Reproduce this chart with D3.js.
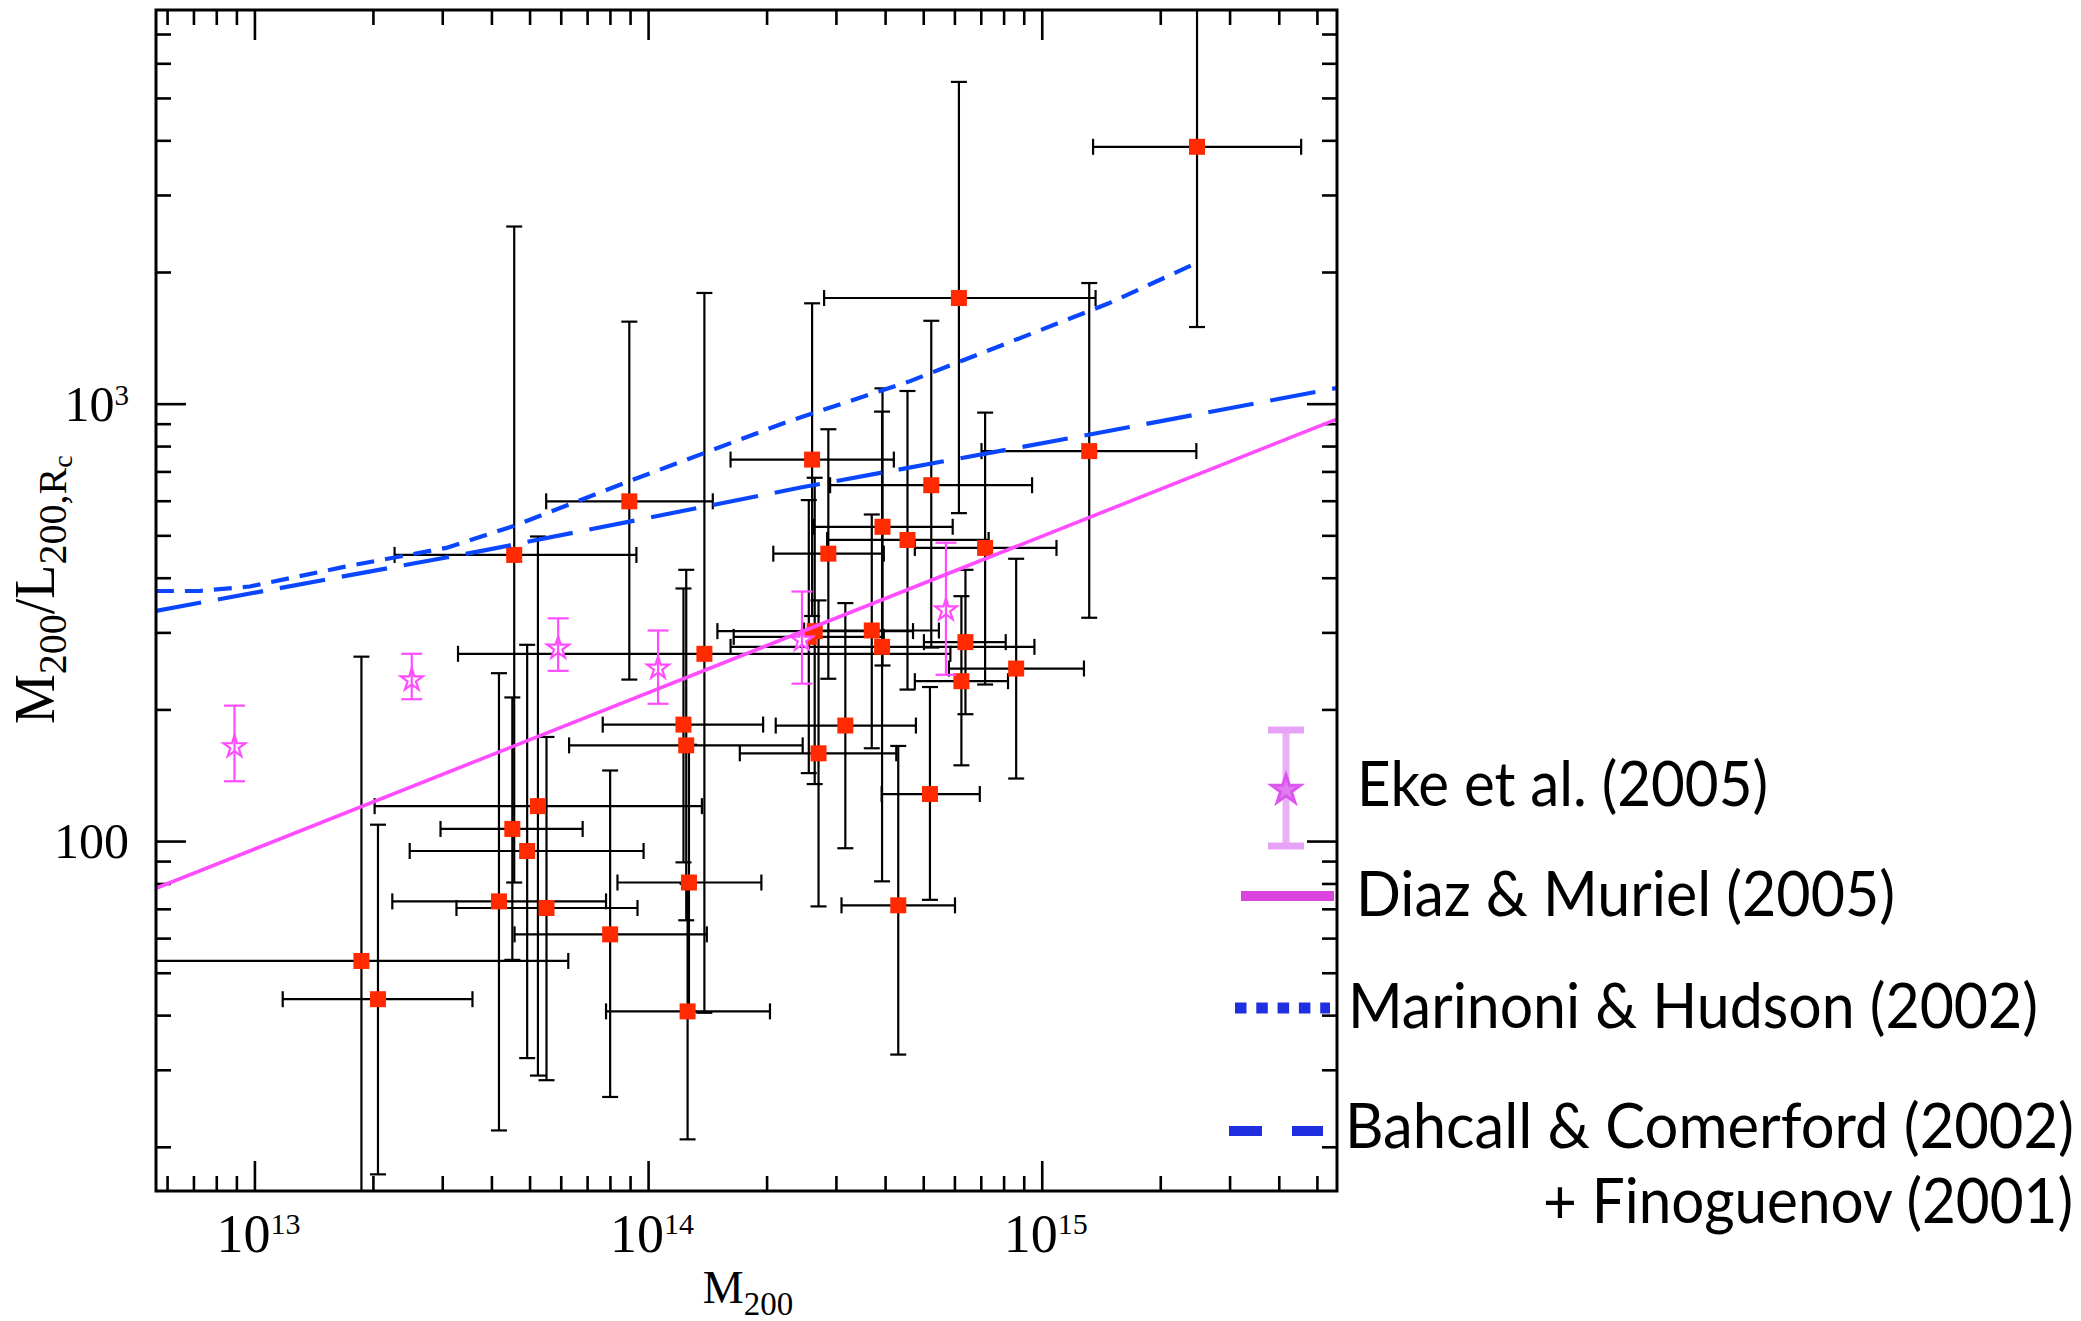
<!DOCTYPE html>
<meta charset="utf-8">

<!-- Load d3.js -->
<script src="https://d3js.org/d3.v7.min.js"></script>

<style>
  body { margin: 0; background: #fff; }
  svg { display: block; }
</style>

<svg id="chart" width="2081" height="1321"></svg>

<script>

// ---- data ---------------------------------------------------------------

// clusters (red squares) : M200, M200/L200 and the error bar ends
var clusterMass    = [2.48e15, 6.16e14, 1.32e15, 2.61e14, 5.24e14, 8.96e13, 4.57e13, 3.94e14, 4.56e14, 7.18e14, 2.87e14, 3.70e14, 2.65e14, 2.56e14, 3.93e14, 6.40e14, 1.39e14, 8.61e14, 6.25e14, 1.23e14, 3.17e14, 1.25e14, 2.71e14, 5.20e14, 5.25e13, 4.52e13, 4.93e13, 1.27e14, 4.18e13, 4.32e14, 5.52e13, 8.01e13, 1.87e13, 2.06e13, 1.26e14];
var clusterRatio   = [3866, 1744, 779, 745, 651, 598, 451, 523, 488, 468, 454, 303, 302, 293, 278, 285, 268, 248, 232, 184.6, 183.7, 165.5, 158.7, 128.1, 120.2, 106.6, 94.9, 80.4, 72.8, 71.3, 70.3, 61.2, 53.2, 43.5, 40.8];
var clusterMassLo  = [1.35e15, 2.80e14, 7.03e14, 1.62e14, 2.90e14, 5.51e13, 2.27e13, 2.64e14, 2.85e14, 4.76e14, 2.08e14, 2.49e14, 1.50e14, 1.65e14, 1.62e14, 5.02e14, 3.29e13, 5.81e14, 4.76e14, 7.67e13, 2.11e14, 6.30e13, 1.71e14, 3.92e14, 2.02e13, 2.97e13, 2.48e13, 8.36e13, 2.24e13, 3.10e14, 3.26e13, 4.58e13, 5.6e12, 1.18e13, 7.82e13];
var clusterMassHi  = [4.56e15, 1.37e15, 2.47e15, 4.21e14, 9.45e14, 1.46e14, 9.34e13, 5.94e14, 7.33e14, 1.09e15, 3.97e14, 5.48e14, 4.71e14, 3.97e14, 9.58e14, 8.10e14, 5.86e14, 1.28e15, 8.21e14, 1.96e14, 4.79e14, 2.47e14, 4.27e14, 6.96e14, 1.37e14, 6.82e13, 9.74e13, 1.94e14, 7.82e13, 6.02e14, 9.40e13, 1.41e14, 6.27e13, 3.58e13, 2.04e14];
var clusterRatioLo = [1497, 562, 324, 327, 277, 234, 80.4, 252, 222, 228, 235, 163, 135, 143, 80.9, 195, 40.5, 139, 149, 89.4, 96.3, 65.9, 70.9, 73.4, 29.1, 53.5, 31.9, 40.8, 21.8, 32.5, 28.4, 26.0, 10.7, 17.3, 20.8];
var clusterRatioHi = [9980, 5440, 1887, 1696, 1547, 1540, 2541, 1084, 1069, 954, 874, 558, 677, 602, 959, 417, 1791, 442, 363, 378, 350, 417, 355, 225, 497, 213, 281, 166, 242, 165, 173, 145, 264, 109, 79.8];

// Eke et al. (2005) groups (open stars)
var ekeMass    = [8.90e12, 2.51e13, 5.91e13, 1.06e14, 2.46e14, 5.71e14];
var ekeRatio   = [166, 236, 279, 251, 291, 341];
var ekeRatioLo = [137, 211, 245, 206, 229, 240];
var ekeRatioHi = [204, 268, 323, 303, 372, 481];

// Diaz & Muriel (2005) power law
var diazMass  = [5.62e12, 5.62e15];
var diazRatio = [78, 922];

// Marinoni & Hudson (2002)
var marinoniMass  = [5.62e12, 7.24e12, 9.73e12, 1.70e13, 3.07e13, 4.55e13, 8.96e13, 2.28e14, 4.63e14, 1.48e15, 2.41e15];
var marinoniRatio = [373, 373, 382, 424, 468, 525, 665, 912, 1126, 1696, 2075];

// Bahcall & Comerford (2002) + Finoguenov (2001)
var bahcallMass  = [5.62e12, 3.75e13, 2.44e14, 1.41e15, 5.62e15];
var bahcallRatio = [336, 460, 643, 859, 1086];

// tick labels
var xTickLabels = [{v: 1e13, base: "10", exp: "13"}, {v: 1e14, base: "10", exp: "14"}, {v: 1e15, base: "10", exp: "15"}];
var yTickLabels = [{v: 100, base: "100", exp: ""}, {v: 1000, base: "10", exp: "3"}];

var legendLabels = ["Eke et al. (2005)", "Diaz & Muriel (2005)", "Marinoni & Hudson (2002)", "Bahcall & Comerford (2002)", "+ Finoguenov (2001)"];

// ---- layout -------------------------------------------------------------

var svg = d3.select("#chart");
var pLeft = 156, pRight = 1337, pTop = 10, pBottom = 1191;

var x = d3.scaleLog().domain([Math.pow(10, 12.75), Math.pow(10, 15.75)]).range([pLeft, pRight]);
var y = d3.scaleLog().domain([Math.pow(10, 1.2), Math.pow(10, 3.9)]).range([pBottom, pTop]);

var serif = "'Liberation Serif', 'DejaVu Serif', serif";
var sans = "Lato, 'Open Sans', sans-serif";

function isDecade(v) {
  var l = Math.log10(v);
  return Math.abs(l - Math.round(l)) < 1e-9;
}

var xMajor = x.ticks().filter(isDecade),
    xMinor = x.ticks().filter(function (v) { return !isDecade(v); }),
    yMajor = y.ticks().filter(isDecade),
    yMinor = y.ticks().filter(function (v) { return !isDecade(v); });

// clip region for the data
svg.append("defs").append("clipPath").attr("id", "plotclip")
  .append("rect")
    .attr("x", pLeft).attr("y", pTop)
    .attr("width", pRight - pLeft).attr("height", pBottom - pTop);

// ---- ticks (inward on all four sides) ------------------------------------

function tickAxis(axis, vals, size, tr) {
  var g = svg.append("g")
    .attr("transform", tr)
    .call(axis.tickValues(vals).tickSize(-size).tickFormat(""));
  g.select(".domain").remove();
  g.selectAll("line").attr("stroke", "#000").attr("stroke-width", 2.6);
}

tickAxis(d3.axisBottom(x), xMajor, 30, "translate(0," + pBottom + ")");
tickAxis(d3.axisBottom(x), xMinor, 15, "translate(0," + pBottom + ")");
tickAxis(d3.axisTop(x), xMajor, 30, "translate(0," + pTop + ")");
tickAxis(d3.axisTop(x), xMinor, 15, "translate(0," + pTop + ")");
tickAxis(d3.axisLeft(y), yMajor, 30, "translate(" + pLeft + ",0)");
tickAxis(d3.axisLeft(y), yMinor, 15, "translate(" + pLeft + ",0)");
tickAxis(d3.axisRight(y), yMajor, 30, "translate(" + pRight + ",0)");
tickAxis(d3.axisRight(y), yMinor, 15, "translate(" + pRight + ",0)");

// ---- data layer ----------------------------------------------------------

var plot = svg.append("g").attr("clip-path", "url(#plotclip)");

var clusters = clusterMass.map(function (m, i) {
  return {m: m, r: clusterRatio[i], mLo: clusterMassLo[i], mHi: clusterMassHi[i],
          rLo: clusterRatioLo[i], rHi: clusterRatioHi[i]};
});

var cap = 8;
var bars = plot.append("g")
  .attr("stroke", "#000")
  .attr("stroke-width", 2.2)
  .attr("fill", "none");

clusters.forEach(function (d) {
  var cx = x(d.m), cy = y(d.r);
  var x0 = x(d.mLo), x1 = x(d.mHi), y0 = y(d.rLo), y1 = y(d.rHi);
  // horizontal
  bars.append("line").attr("x1", x0).attr("x2", x1).attr("y1", cy).attr("y2", cy);
  bars.append("line").attr("x1", x0).attr("x2", x0).attr("y1", cy - cap).attr("y2", cy + cap);
  bars.append("line").attr("x1", x1).attr("x2", x1).attr("y1", cy - cap).attr("y2", cy + cap);
  // vertical
  bars.append("line").attr("x1", cx).attr("x2", cx).attr("y1", y0).attr("y2", y1);
  bars.append("line").attr("x1", cx - cap).attr("x2", cx + cap).attr("y1", y0).attr("y2", y0);
  bars.append("line").attr("x1", cx - cap).attr("x2", cx + cap).attr("y1", y1).attr("y2", y1);
});

plot.append("g")
  .selectAll("rect")
  .data(clusters)
  .enter()
  .append("rect")
    .attr("x", function (d) { return x(d.m) - 8; })
    .attr("y", function (d) { return y(d.r) - 8; })
    .attr("width", 16)
    .attr("height", 16)
    .attr("fill", "#ff2a00");

// model lines
var line = d3.line()
  .x(function (d) { return x(d[0]); })
  .y(function (d) { return y(d[1]); });

plot.append("path")
  .datum(d3.zip(bahcallMass, bahcallRatio))
  .attr("d", line)
  .attr("fill", "none")
  .attr("stroke", "#0a46ff")
  .attr("stroke-width", 4.2)
  .attr("stroke-dasharray", "46,17");

plot.append("path")
  .datum(d3.zip(marinoniMass, marinoniRatio))
  .attr("d", line)
  .attr("fill", "none")
  .attr("stroke", "#0a46ff")
  .attr("stroke-width", 4.2)
  .attr("stroke-dasharray", "18,11");

plot.append("path")
  .datum(d3.zip(diazMass, diazRatio))
  .attr("d", line)
  .attr("fill", "none")
  .attr("stroke", "#ff4cff")
  .attr("stroke-width", 3.6);

// Eke et al. stars with error bars
var eke = plot.append("g")
  .attr("stroke", "#ff4cff")
  .attr("stroke-width", 2.2)
  .attr("fill", "none");

var star = d3.symbol().type(d3.symbolStar).size(150);

ekeMass.forEach(function (m, i) {
  var cx = x(m), y0 = y(ekeRatioLo[i]), y1 = y(ekeRatioHi[i]);
  eke.append("line").attr("x1", cx).attr("x2", cx).attr("y1", y0).attr("y2", y1);
  eke.append("line").attr("x1", cx - 10.5).attr("x2", cx + 10.5).attr("y1", y0).attr("y2", y0);
  eke.append("line").attr("x1", cx - 10.5).attr("x2", cx + 10.5).attr("y1", y1).attr("y2", y1);
  eke.append("path")
    .attr("d", star())
    .attr("fill", "#fff")
    .attr("transform", "translate(" + cx + "," + (y(ekeRatio[i]) + 2) + ")");
  eke.append("line").attr("x1", cx).attr("x2", cx).attr("y1", y(ekeRatio[i]) - 6).attr("y2", y(ekeRatio[i]) + 6);
});

// frame
svg.append("rect")
  .attr("x", pLeft).attr("y", pTop)
  .attr("width", pRight - pLeft).attr("height", pBottom - pTop)
  .attr("fill", "none")
  .attr("stroke", "#000")
  .attr("stroke-width", 3);

// ---- tick labels and axis titles ------------------------------------------

xTickLabels.forEach(function (t) {
  var txt = svg.append("text")
    .attr("x", x(t.v) + 4)
    .attr("y", 1252)
    .attr("text-anchor", "middle")
    .style("font-family", serif)
    .style("font-size", "54px");
  txt.append("tspan").text(t.base);
  txt.append("tspan").attr("dy", -18).style("font-size", "30px").text(t.exp);
});

yTickLabels.forEach(function (t) {
  var txt = svg.append("text")
    .attr("x", 129)
    .attr("y", y(t.v) + 17)
    .attr("text-anchor", "end")
    .style("font-family", serif)
    .style("font-size", "50px");
  txt.append("tspan").text(t.base);
  if (t.exp) txt.append("tspan").attr("dy", -16).style("font-size", "29px").text(t.exp);
});

// x title: M200
var xt = svg.append("text")
  .attr("x", 748).attr("y", 1303)
  .attr("text-anchor", "middle")
  .style("font-family", serif)
  .style("font-size", "46px");
xt.append("tspan").text("M");
xt.append("tspan").attr("dy", 12).style("font-size", "33px").text("200");

// y title: M200 / L200,Rc  (reads upward from the bottom)
var yt = svg.append("text")
  .attr("transform", "translate(54,724) rotate(-90)")
  .attr("text-anchor", "start")
  .style("font-family", serif)
  .style("font-size", "56px");
yt.append("tspan").text("M");
yt.append("tspan").attr("dy", 12).style("font-size", "40px").text("200");
yt.append("tspan").attr("dy", -12).text("/L");
yt.append("tspan").attr("dy", 12).style("font-size", "40px").text("200,R");
yt.append("tspan").attr("dy", 6).style("font-size", "28px").text("c");

// ---- legend ---------------------------------------------------------------

var leg = svg.append("g");

// Eke symbol
leg.append("line").attr("x1", 1286).attr("x2", 1286).attr("y1", 730).attr("y2", 846)
  .attr("stroke", "#eab0f6").attr("stroke-width", 7);
leg.append("line").attr("x1", 1268).attr("x2", 1304).attr("y1", 730).attr("y2", 730)
  .attr("stroke", "#e6a2f4").attr("stroke-width", 7);
leg.append("line").attr("x1", 1268).attr("x2", 1304).attr("y1", 846).attr("y2", 846)
  .attr("stroke", "#e6a2f4").attr("stroke-width", 7);
leg.append("path")
  .attr("d", d3.symbol().type(d3.symbolStar).size(260)())
  .attr("transform", "translate(1286,790)")
  .attr("fill", "#e07cf2")
  .attr("stroke", "#dd55ee")
  .attr("stroke-width", 3);

// Diaz bar
leg.append("line").attr("x1", 1241).attr("x2", 1334).attr("y1", 896).attr("y2", 896)
  .attr("stroke", "#dd44dd").attr("stroke-width", 10);

// Marinoni dots
leg.append("line").attr("x1", 1235).attr("x2", 1330).attr("y1", 1008).attr("y2", 1008)
  .attr("stroke", "#1f2fdf").attr("stroke-width", 11).attr("stroke-dasharray", "11.5,9.8");

// Bahcall dashes
leg.append("line").attr("x1", 1229).attr("x2", 1323).attr("y1", 1131).attr("y2", 1131)
  .attr("stroke", "#1f2fdf").attr("stroke-width", 10).attr("stroke-dasharray", "33,30");

var legendPos = [
  {x: 1357, y: 806, w: 411, anchor: "start"},
  {x: 1356, y: 916, w: 539, anchor: "start"},
  {x: 1348, y: 1028, w: 690, anchor: "start"},
  {x: 1345, y: 1148, w: 729, anchor: "start"},
  {x: 2073, y: 1223, w: 530, anchor: "end"}
];

legendLabels.forEach(function (s, i) {
  var p = legendPos[i];
  var x0 = p.anchor === "end" ? p.x - p.w : p.x;
  leg.append("text")
    .attr("x", x0).attr("y", p.y)
    .attr("textLength", p.w)
    .attr("lengthAdjust", "spacingAndGlyphs")
    .style("font-family", sans)
    .style("font-size", "61px")
    .text(s);
});

</script>
